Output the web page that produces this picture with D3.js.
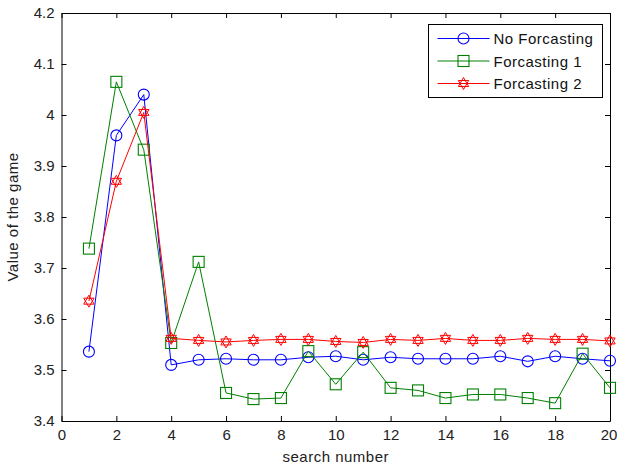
<!DOCTYPE html>
<html>
<head>
<meta charset="utf-8">
<script src="https://cdn.jsdelivr.net/npm/d3@7"></script>
<style>
  body { margin: 0; background: #fff; }
  text { font-family: "Liberation Sans", Arial, sans-serif; letter-spacing: 0.5px; }
  .tick text { letter-spacing: 0; }
</style>
</head>
<body>
<div id="chart"></div>
<script>
// data
var searchNumber = d3.range(1, 21);
var noForcasting = [3.536, 3.96, 4.04, 3.51, 3.52, 3.522, 3.52, 3.52, 3.525, 3.527,
  3.52, 3.525, 3.522, 3.522, 3.522, 3.527, 3.517, 3.527, 3.522, 3.518];
var forcasting1 = [3.738, 4.065, 3.932, 3.553, 3.712, 3.455, 3.443, 3.445, 3.537, 3.472,
  3.535, 3.465, 3.46, 3.445, 3.452, 3.452, 3.445, 3.435, 3.532, 3.465];
var forcasting2 = [3.635, 3.87, 4.005, 3.562, 3.558, 3.555, 3.558, 3.56, 3.56, 3.556,
  3.554, 3.56, 3.558, 3.562, 3.558, 3.558, 3.562, 3.56, 3.56, 3.557];
var xTicks = [0, 2, 4, 6, 8, 10, 12, 14, 16, 18, 20];
var yTicks = [3.4, 3.5, 3.6, 3.7, 3.8, 3.9, 4, 4.1, 4.2];

var svgWidth = 617;
var svgHeight = 468;
var margin = { top: 13, right: 7, bottom: 47, left: 61.5 };
var width = svgWidth - margin.left - margin.right;
var height = svgHeight - margin.top - margin.bottom;

var svg = d3.select("#chart")
  .append("svg")
  .attr("width", svgWidth)
  .attr("height", svgHeight);

var chartGroup = svg.append("g")
  .attr("transform", `translate(${margin.left}, ${margin.top})`);

var xScale = d3.scaleLinear().domain([0, 20]).range([0, width]);
var yScale = d3.scaleLinear().domain([3.4, 4.2]).range([height, 0]);

// axes with inward ticks, MATLAB style box
var tickLen = 5;
var bottomAxis = d3.axisBottom(xScale).tickValues(xTicks).tickSizeInner(-tickLen).tickSizeOuter(0).tickPadding(8).tickFormat(d3.format("d"));
var leftAxis = d3.axisLeft(yScale).tickValues(yTicks).tickSizeInner(-tickLen).tickSizeOuter(0).tickPadding(7).tickFormat(d => d === 4 ? "4" : d3.format(".1f")(d));
var topAxis = d3.axisTop(xScale).tickValues(xTicks).tickSizeInner(-tickLen).tickSizeOuter(0).tickFormat("");
var rightAxis = d3.axisRight(yScale).tickValues(yTicks).tickSizeInner(-tickLen).tickSizeOuter(0).tickFormat("");

chartGroup.append("rect")
  .attr("width", width)
  .attr("height", height)
  .attr("fill", "#fff");

function styleAxis(g) {
  g.select(".domain").attr("stroke", "#000");
  g.selectAll(".tick line").attr("stroke", "#000");
  g.selectAll(".tick text").attr("fill", "#222").attr("font-size", "15px")
    .attr("font-family", "'Liberation Sans', Arial, sans-serif");
}

var xAxisG = chartGroup.append("g").attr("transform", `translate(0, ${height})`).call(bottomAxis).call(styleAxis);
// keep the last label inside the page
xAxisG.selectAll(".tick text").filter(d => d === 20).attr("dx", -1.5);
chartGroup.append("g").call(leftAxis).call(styleAxis);
chartGroup.append("g").call(topAxis).call(styleAxis);
chartGroup.append("g").attr("transform", `translate(${width}, 0)`).call(rightAxis).call(styleAxis);

// hexagram marker path
function hexagram(r) {
  var p1 = [], p2 = [];
  for (var i = 0; i < 3; i++) {
    var a1 = -Math.PI / 2 + i * 2 * Math.PI / 3;
    var a2 = Math.PI / 2 + i * 2 * Math.PI / 3;
    p1.push([r * Math.cos(a1), r * Math.sin(a1)]);
    p2.push([r * Math.cos(a2), r * Math.sin(a2)]);
  }
  return "M" + p1.join("L") + "Z" + "M" + p2.join("L") + "Z";
}

function drawMarker(g, type, color) {
  if (type === "circle") {
    g.append("circle").attr("r", 5.5).attr("fill", "none").attr("stroke", color).attr("stroke-width", 1.1);
  } else if (type === "square") {
    g.append("rect").attr("x", -5.5).attr("y", -5.5).attr("width", 11).attr("height", 11)
      .attr("fill", "none").attr("stroke", color).attr("stroke-width", 1.1);
  } else {
    g.append("path").attr("d", hexagram(6)).attr("fill", "none").attr("stroke", color).attr("stroke-width", 1);
  }
}

var series = [
  { name: "No Forcasting", values: noForcasting, color: "#0000ff", marker: "circle" },
  { name: "Forcasting 1", values: forcasting1, color: "#008000", marker: "square" },
  { name: "Forcasting 2", values: forcasting2, color: "#ff0000", marker: "hexagram" }
];

var line = d3.line()
  .x((d, i) => xScale(searchNumber[i]))
  .y(d => yScale(d));

series.forEach(function(s) {
  chartGroup.append("path")
    .datum(s.values)
    .attr("d", line)
    .attr("fill", "none")
    .attr("stroke", s.color)
    .attr("stroke-width", 1);

  chartGroup.selectAll(null)
    .data(s.values)
    .enter()
    .append("g")
    .attr("transform", (d, i) => `translate(${xScale(searchNumber[i])}, ${yScale(d)})`)
    .each(function() { drawMarker(d3.select(this), s.marker, s.color); });
});

// legend
var legend = svg.append("g").attr("transform", "translate(428.5, 24.5)");
legend.append("rect")
  .attr("width", 174)
  .attr("height", 73)
  .attr("fill", "#fff")
  .attr("stroke", "#000");

series.forEach(function(s, i) {
  var row = legend.append("g").attr("transform", `translate(0, ${14 + i * 22.5})`);
  row.append("line").attr("x1", 9).attr("x2", 61).attr("stroke", s.color);
  var m = row.append("g").attr("transform", "translate(35, 0)");
  drawMarker(m, s.marker, s.color);
  row.append("text")
    .attr("x", 65)
    .attr("y", 5.5)
    .attr("font-size", "15px")
    .attr("fill", "#111")
    .text(s.name);
});

// axis labels
svg.append("text")
  .attr("x", margin.left + width / 2)
  .attr("y", 462)
  .attr("text-anchor", "middle")
  .attr("font-size", "15px")
  .attr("fill", "#222")
  .text("search number");

svg.append("text")
  .attr("transform", `translate(18, ${margin.top + height / 2}) rotate(-90)`)
  .attr("text-anchor", "middle")
  .attr("font-size", "15px")
  .attr("fill", "#222")
  .text("Value of the game");
</script>
</body>
</html>
